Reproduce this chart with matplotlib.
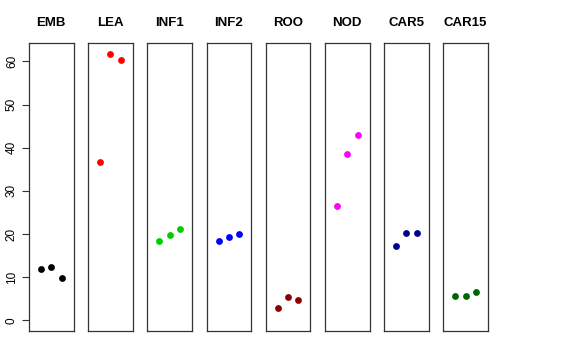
import matplotlib.pyplot as plt

# categorias e valores (3 réplicas cada)
groups = ['EMB', 'LEA', 'INF1', 'INF2', 'ROO', 'NOD', 'CAR5', 'CAR15']
values = [
    [12.0, 12.3, 9.9],
    [36.6, 61.8, 60.3],
    [18.5, 19.7, 21.1],
    [18.4, 19.2, 20.1],
    [2.9, 5.4, 4.7],
    [26.6, 38.5, 42.9],
    [17.2, 20.2, 20.15],
    [5.7, 5.7, 6.6],
]
colors = ['black', 'red', '#00CD00', 'blue', '#8B0000', 'magenta', '#00008B', '#006400']
reps = [1, 2, 3]
yticks = [0, 10, 20, 30, 40, 50, 60]

W, H = 576, 360
fig = plt.figure(figsize=(W / 100, H / 100), dpi=100)
plt.rcParams['font.family'] = ['Liberation Sans', 'DejaVu Sans']

ymax = 61.8
pad = ymax * 0.04
for i, g in enumerate(groups):
    left = 29 + i * 59.2
    ax = fig.add_axes([left / W, 29 / H, 44.5 / W, 288 / H])
    ax.scatter(reps, values[i], s=24, color=colors[i], zorder=3, linewidths=0)
    ax.set_xlim(-0.16, 4.16)
    ax.set_ylim(-pad, ymax + pad)
    ax.set_xticks([])
    for sp in ax.spines.values():
        sp.set_color('#333333')
        sp.set_linewidth(0.9)
    ax.set_title(g, fontsize=9.5, fontweight='bold', pad=12)
    if i == 0:
        ax.set_yticks(yticks)
        ax.set_yticklabels([str(v) for v in yticks], rotation=90, va='center', fontsize=8.5)
        ax.tick_params(axis='y', length=5, width=0.8, pad=3, colors='#333333', labelcolor='black')
    else:
        ax.set_yticks([])

fig.savefig('out.png', dpi=100)
